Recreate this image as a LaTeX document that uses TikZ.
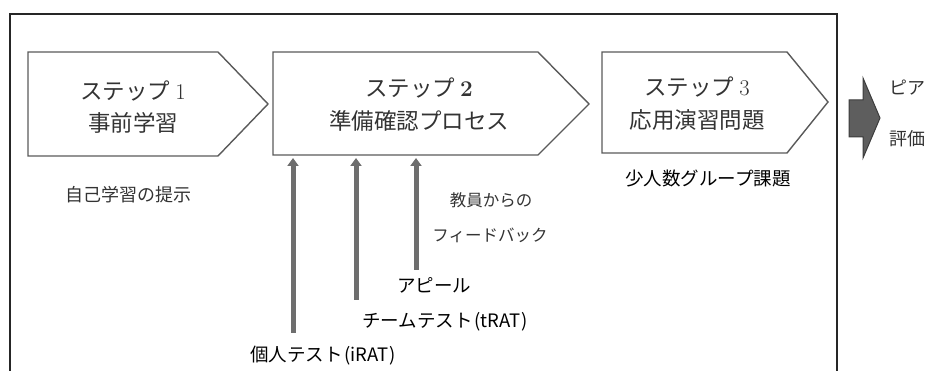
\documentclass[tikz,border=0pt]{standalone}
\usepackage{fontspec}
\usetikzlibrary{arrows.meta}
\newfontfamily\jp{Noto Sans CJK JP}
\definecolor{boxline}{HTML}{5A5A5A}
\definecolor{txtgray}{HTML}{333333}
\definecolor{arrgray}{HTML}{6E6E6E}
\definecolor{bigfill}{HTML}{5E5E5E}
\definecolor{bigline}{HTML}{3C3C3C}
\tikzset{
  stepbox/.style={draw=boxline, line width=1.4pt, fill=white},
  steptxt/.style={inner sep=0pt, text=txtgray, font=\jp\fontsize{22.5}{27}\selectfont},
  smalltxt/.style={inner sep=0pt, text=txtgray, font=\jp\fontsize{18}{22}\selectfont},
  fbtxt/.style={inner sep=0pt, text=txtgray, font=\jp\fontsize{16.5}{20}\selectfont},
  boldtxt/.style={inner sep=0pt, text=black, font=\jp\fontsize{18.5}{22}\selectfont},
  uparrow/.style={draw=arrgray, line width=5pt, -{Triangle[width=11pt,length=8pt]}},
}
\begin{document}
\begin{tikzpicture}[x=1pt,y=-1pt]
\useasboundingbox (0,0) rectangle (927,371);
% outer frame
\draw[line width=2pt, color=black!85] (10,371) -- (10,14) -- (837,14) -- (837,371);
% step boxes
\draw[stepbox] (28,52) -- (218,52) -- (268,104) -- (218,156) -- (28,156) -- cycle;
\draw[stepbox] (273,52) -- (538,52) -- (589,104) -- (538,155) -- (273,155) -- cycle;
\draw[stepbox] (602,52) -- (787,52) -- (828,102) -- (787,153) -- (602,153) -- cycle;
% step texts
\node[steptxt] (s1a) at (133,91) {ステップ {\rmfamily 1}};
\node[steptxt] (s1b) at (133,123) {事前学習};
\node[steptxt] (s2a) at (419,88) {ステップ {\rmfamily\bfseries 2}};
\node[steptxt] (s2b) at (419,121) {準備確認プロセス};
\node[steptxt] (s3a) at (697,87) {ステップ {\rmfamily 3}};
\node[steptxt] (s3b) at (697,120) {応用演習問題};
% labels
\node[smalltxt] (self) at (128,195) {自己学習の提示};
\node[fbtxt] (fb1) at (491,200) {教員からの};
\node[fbtxt] (fb2) at (490,235) {フィードバック};
\node[boldtxt] (small) at (708,178) {少人数グループ課題};
\node[boldtxt] (appeal) at (434,285) {アピール};
\node[boldtxt] (trat) at (445,322) {チームテスト\kern2pt(tRAT\kern1pt)};
\node[boldtxt] (irat) at (323,356) {個人テスト\kern2pt(iRAT\kern1pt)};
% arrows into step 2
\coordinate (a1s) at (293,333);
\coordinate (a1e) at (293,158);
\coordinate (a2s) at (356,300);
\coordinate (a2e) at (356,158);
\coordinate (a3s) at (416,270);
\coordinate (a3e) at (416,158);
\draw[uparrow] (a1s) -- (a1e);
\draw[uparrow] (a2s) -- (a2e);
\draw[uparrow] (a3s) -- (a3e);
% big arrow to peer evaluation
\draw[fill=bigfill, draw=bigline, line width=1pt]
  (849,100) -- (863,100) -- (863,78) -- (880,118) -- (863,158) -- (863,137) -- (849,137) -- cycle;
\node[smalltxt, anchor=west] (peer1) at (889,88) {ピア};
\node[smalltxt, anchor=west] (peer2) at (889,139) {評価};
\end{tikzpicture}
\end{document}
